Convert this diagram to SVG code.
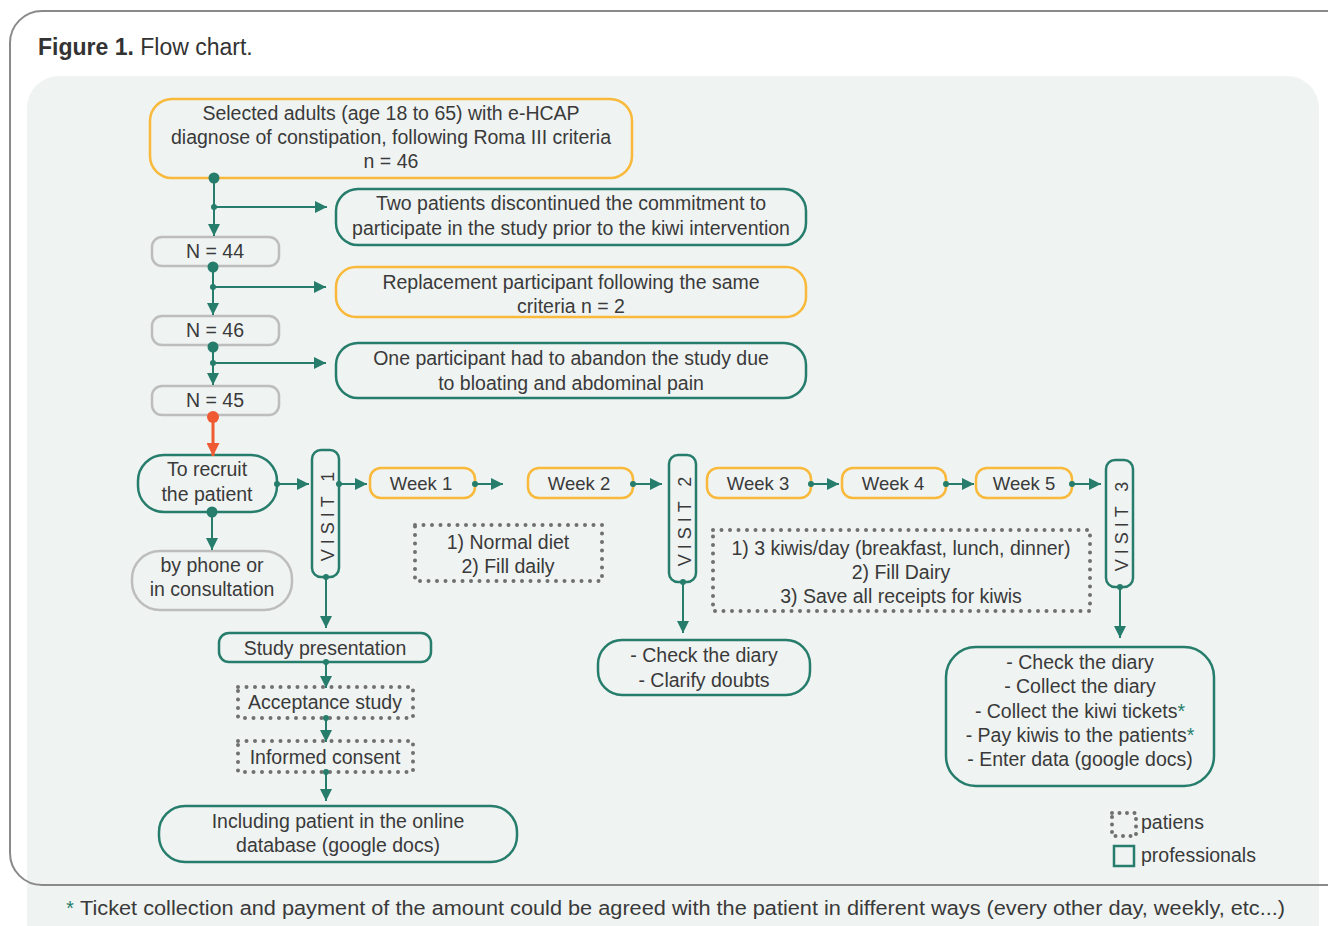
<svg xmlns="http://www.w3.org/2000/svg" width="1328" height="926" viewBox="0 0 1328 926">
<defs>
<marker id="ah" viewBox="0 0 12 12" refX="12" refY="6" markerWidth="12" markerHeight="12" markerUnits="userSpaceOnUse" orient="auto">
<path d="M0,0 L12,6 L0,12 z" fill="#267d6b"/>
</marker>
<marker id="ahr" viewBox="0 0 12 12" refX="12" refY="6" markerWidth="13" markerHeight="13" markerUnits="userSpaceOnUse" orient="auto">
<path d="M0,0 L12,6 L0,12 z" fill="#f05a32"/>
</marker>
</defs>
<style>
text{font-family:"Liberation Sans",Arial,sans-serif;font-size:19.5px;fill:#3a3a3a;text-anchor:middle;dominant-baseline:central}
.w{font-size:18.5px}
.o{fill:none;stroke:#f9b93a;stroke-width:2.5}
.t{fill:none;stroke:#267d6b;stroke-width:2.5}
.g{fill:none;stroke:#bdbdbd;stroke-width:2.5}
.d{fill:none;stroke:#707070;stroke-width:4;stroke-dasharray:0 8.5;stroke-linecap:round}
.c{fill:none;stroke:#267d6b;stroke-width:2;marker-end:url(#ah)}
.cr{fill:none;stroke:#f05a32;stroke-width:3;marker-end:url(#ahr)}
.dot{fill:#267d6b}
.vt{font-size:18px;letter-spacing:5px}
</style>
<rect x="27" y="76" width="1292" height="880" rx="32" fill="#eff3f2"/>
<rect x="10" y="11" width="1350" height="874" rx="32" fill="none" stroke="#8a8a8a" stroke-width="2"/>
<g id="title">
<text x="38" y="47" style="text-anchor:start;font-size:23px;fill:#333"><tspan font-weight="bold">Figure 1.</tspan> Flow chart.</text>
</g>

<g id="n-selected">
<rect class="o" x="150" y="99" width="482" height="79" rx="22"/>
<text x="391" y="113">Selected adults (age 18 to 65) with e-HCAP</text>
<text x="391" y="137">diagnose of constipation, following Roma III criteria</text>
<text x="391" y="161">n = 46</text>
</g>
<g id="n-two">
<rect class="t" x="336" y="189" width="470" height="56" rx="22"/>
<text x="571" y="203">Two patients discontinued the commitment to</text>
<text x="571" y="228">participate in the study prior to the kiwi intervention</text>
</g>
<g id="n-44">
<rect class="g" x="152" y="237" width="127" height="29" rx="10"/>
<text x="215" y="251">N = 44</text>
</g>
<g id="n-replace">
<rect class="o" x="336" y="267" width="470" height="50" rx="20"/>
<text x="571" y="282">Replacement participant following the same</text>
<text x="571" y="306">criteria n = 2</text>
</g>
<g id="n-46">
<rect class="g" x="152" y="316" width="127" height="29" rx="10"/>
<text x="215" y="330">N = 46</text>
</g>
<g id="n-one">
<rect class="t" x="336" y="343" width="470" height="55" rx="22"/>
<text x="571" y="358">One participant had to abandon the study due</text>
<text x="571" y="383">to bloating and abdominal pain</text>
</g>
<g id="n-45">
<rect class="g" x="152" y="386" width="127" height="29" rx="10"/>
<text x="215" y="400">N = 45</text>
</g>
<g id="n-recruit">
<rect class="t" x="138" y="455" width="139" height="57" rx="26"/>
<text x="207" y="469">To recruit</text>
<text x="207" y="494">the patient</text>
</g>
<g id="n-phone">
<rect class="g" x="132" y="551" width="160" height="59" rx="28"/>
<text x="212" y="565">by phone or</text>
<text x="212" y="589">in consultation</text>
</g>
<g id="n-visit1">
<rect class="t" x="312" y="450" width="27" height="127" rx="9"/>
<text class="vt" transform="translate(328,514) rotate(-90)">VISIT 1</text>
</g>
<g id="n-week1">
<rect class="o" x="370" y="468" width="105" height="30" rx="11"/>
<text class="w" x="421" y="483">Week 1</text>
</g>
<g id="n-week2">
<rect class="o" x="528" y="468" width="105" height="30" rx="11"/>
<text class="w" x="579" y="483">Week 2</text>
</g>
<g id="n-visit2">
<rect class="t" x="669" y="455" width="27" height="127" rx="9"/>
<text class="vt" transform="translate(685,519) rotate(-90)">VISIT 2</text>
</g>
<g id="n-week3">
<rect class="o" x="707" y="468" width="104" height="30" rx="11"/>
<text class="w" x="758" y="483">Week 3</text>
</g>
<g id="n-week4">
<rect class="o" x="842" y="468" width="104" height="30" rx="11"/>
<text class="w" x="893" y="483">Week 4</text>
</g>
<g id="n-week5">
<rect class="o" x="976" y="468" width="96" height="30" rx="11"/>
<text class="w" x="1024" y="483">Week 5</text>
</g>
<g id="n-visit3">
<rect class="t" x="1106" y="460" width="27" height="127" rx="9"/>
<text class="vt" transform="translate(1122,524) rotate(-90)">VISIT 3</text>
</g>
<g id="n-diet1">
<rect class="d" x="415" y="525" width="187" height="56"/>
<text x="508" y="542">1) Normal diet</text>
<text x="508" y="566">2) Fill daily</text>
</g>
<g id="n-diet2">
<rect class="d" x="713" y="530" width="377" height="81"/>
<text x="901" y="548">1) 3 kiwis/day (breakfast, lunch, dinner)</text>
<text x="901" y="572">2) Fill Dairy</text>
<text x="901" y="596">3) Save all receipts for kiwis</text>
</g>
<g id="n-check2">
<rect class="t" x="598" y="640" width="212" height="55" rx="24"/>
<text x="704" y="655">- Check the diary</text>
<text x="704" y="680">- Clarify doubts</text>
</g>
<g id="n-check3">
<rect class="t" x="946" y="647" width="268" height="139" rx="30"/>
<text x="1080" y="662">- Check the diary</text>
<text x="1080" y="686">- Collect the diary</text>
<text x="1080" y="711">- Collect the kiwi tickets<tspan fill="#267d6b">*</tspan></text>
<text x="1080" y="735">- Pay kiwis to the patients<tspan fill="#267d6b">*</tspan></text>
<text x="1080" y="759">- Enter data (google docs)</text>
</g>
<g id="n-study">
<rect class="t" x="219" y="633" width="212" height="29" rx="10"/>
<text x="325" y="648">Study presentation</text>
</g>
<g id="n-accept">
<rect class="d" x="238" y="687" width="175" height="31"/>
<text x="325" y="702">Acceptance study</text>
</g>
<g id="n-consent">
<rect class="d" x="238" y="741" width="175" height="31"/>
<text x="325" y="757">Informed consent</text>
</g>
<g id="n-including">
<rect class="t" x="159" y="806" width="358" height="56" rx="26"/>
<text x="338" y="821">Including patient in the online</text>
<text x="338" y="845">database (google docs)</text>
</g>

<g id="connectors">
<path class="c" d="M214,178 V236"/>
<path class="c" d="M214,207 H327"/>
<circle class="dot" cx="214" cy="207" r="3"/>
<circle class="dot" cx="214" cy="178" r="5.5"/>
<path class="c" d="M213,266 V315"/>
<path class="c" d="M213,287 H326"/>
<circle class="dot" cx="213" cy="287" r="3"/>
<circle class="dot" cx="213" cy="267" r="5.5"/>
<path class="c" d="M213,346 V385"/>
<path class="c" d="M213,363 H326"/>
<circle class="dot" cx="213" cy="363" r="3"/>
<circle class="dot" cx="213" cy="347" r="5.5"/>
<path class="cr" d="M213,417 V456"/>
<circle cx="213" cy="417" r="6" fill="#f05a32"/>
<path class="c" d="M212,512 V550"/>
<circle class="dot" cx="212" cy="512" r="5.5"/>
<path class="c" d="M277,484 H309"/>
<circle class="dot" cx="277" cy="484" r="3"/>
<path class="c" d="M339,484 H367"/>
<circle class="dot" cx="339" cy="484" r="3"/>
<path class="c" d="M326,577 V628"/>
<circle class="dot" cx="326" cy="577" r="3"/>
<path class="c" d="M475,484 H503"/>
<circle class="dot" cx="475" cy="484" r="3"/>
<path class="c" d="M633,484 H662"/>
<circle class="dot" cx="633" cy="484" r="3"/>
<path class="c" d="M683,582 V633"/>
<circle class="dot" cx="683" cy="582" r="3"/>
<path class="c" d="M811,484 H839"/>
<circle class="dot" cx="811" cy="484" r="3"/>
<path class="c" d="M946,484 H974"/>
<circle class="dot" cx="946" cy="484" r="3"/>
<path class="c" d="M1072,484 H1101"/>
<circle class="dot" cx="1072" cy="484" r="3"/>
<path class="c" d="M1120,587 V638"/>
<circle class="dot" cx="1120" cy="587" r="3"/>
<path class="c" d="M326,662 V688"/>
<circle class="dot" cx="326" cy="662" r="3"/>
<path class="c" d="M326,718 V742"/>
<circle class="dot" cx="326" cy="718" r="3"/>
<path class="c" d="M326,772 V801"/>
<circle class="dot" cx="326" cy="772" r="3"/>
</g>

<g id="legend">
<rect class="d" x="1112" y="813" width="24" height="23" style="stroke-dasharray:0 7.5"/>
<text x="1141" y="822" style="text-anchor:start">patiens</text>
<rect x="1114" y="846" width="20" height="20" fill="none" stroke="#267d6b" stroke-width="2.5"/>
<text x="1141" y="855" style="text-anchor:start">professionals</text>
</g>
<g id="footnote">
<text x="70" y="908" style="fill:#267d6b">*</text>
<text x="80" y="908" style="text-anchor:start" textLength="1205" lengthAdjust="spacingAndGlyphs">Ticket collection and payment of the amount could be agreed with the patient in different ways (every other day, weekly, etc...)</text>
</g>
</svg>
